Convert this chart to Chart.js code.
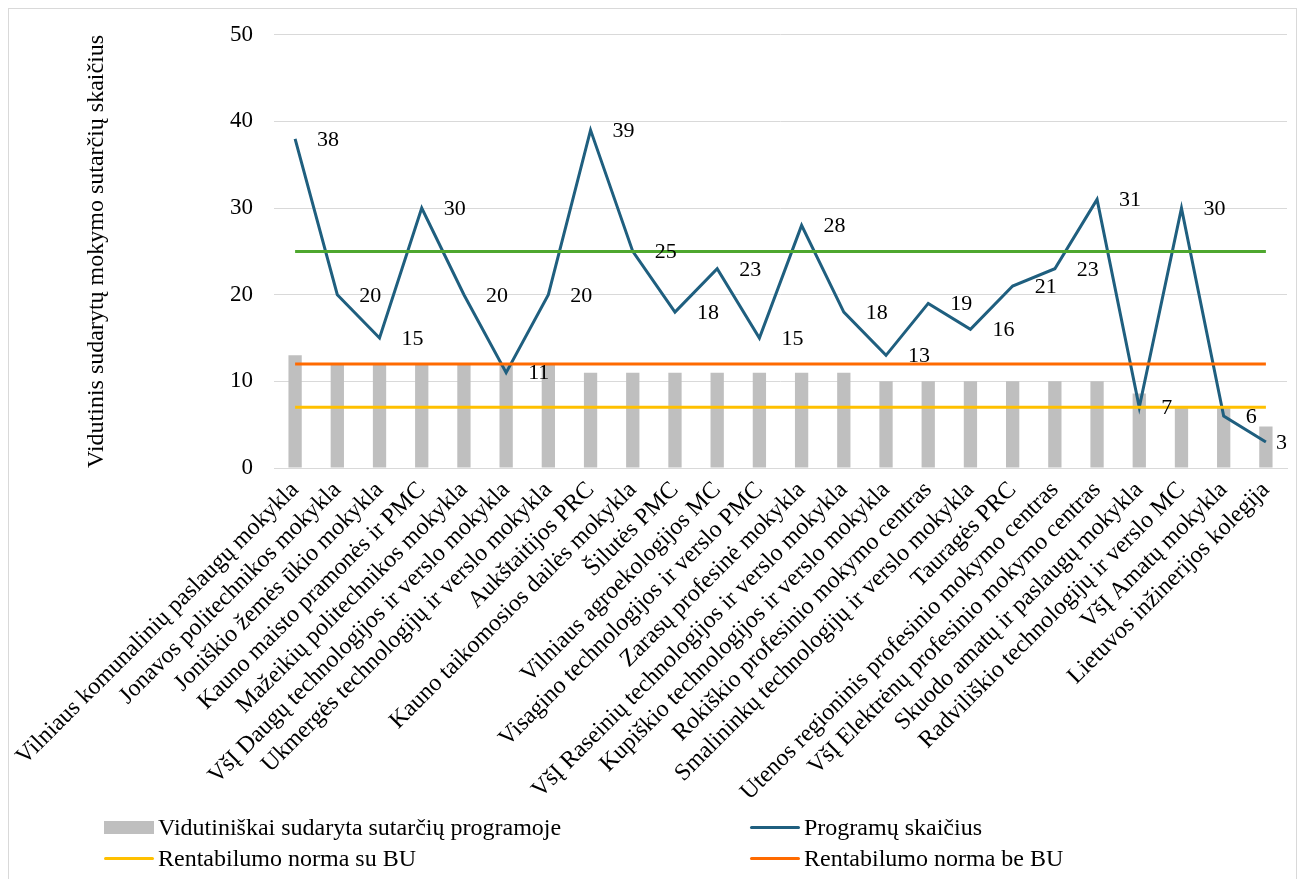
<!DOCTYPE html>
<html>
<head>
<meta charset="utf-8">
<script src="https://cdn.jsdelivr.net/npm/chart.js@4/dist/chart.umd.min.js"></script>
<style>
  body { margin: 0; background: #fff; }
  #wrap { position: relative; width: 1302px; height: 879px; }
  #frame { position: absolute; left: 8px; top: 8px; width: 1289px; height: 890px; border: 1px solid #d9d9d9; box-sizing: border-box; }
  #myChart { position: absolute; left: 0; top: 0; }
  .legend { position: absolute; font-family: "Liberation Serif", "Times New Roman", serif; font-size: 24px; line-height: 28px; color: #000; display: flex; align-items: center; white-space: nowrap; }
  .legend .box { width: 50px; height: 13px; background: #bfbfbf; margin-right: 4px; }
  .legend .ln { width: 50px; height: 3px; margin-right: 4px; border-radius: 2px; }
</style>
</head>
<body>
<div id="wrap">
  <div id="frame"></div>
  <canvas id="myChart" width="1302" height="879"></canvas>
  <div class="legend" style="left:104px; top:813px;"><span class="box"></span>Vidutiniškai sudaryta sutarčių programoje</div>
  <div class="legend" style="left:750px; top:813px;"><span class="ln" style="background:#1f5f7f"></span>Programų skaičius</div>
  <div class="legend" style="left:104px; top:844px;"><span class="ln" style="background:#ffc000"></span>Rentabilumo norma su BU</div>
  <div class="legend" style="left:750px; top:844px;"><span class="ln" style="background:#ff6a00"></span>Rentabilumo norma be BU</div>
</div>
<script>
const categories = [
  "Vilniaus komunalinių paslaugų mokykla",
  "Jonavos politechnikos mokykla",
  "Joniškio žemės ūkio mokykla",
  "Kauno maisto pramonės ir PMC",
  "Mažeikių politechnikos mokykla",
  "VšĮ Daugų technologijos ir verslo mokykla",
  "Ukmergės technologijų ir verslo mokykla",
  "Aukštaitijos PRC",
  "Kauno taikomosios dailės mokykla",
  "Šilutės PMC",
  "Vilniaus agroekologijos MC",
  "Visagino technologijos ir verslo PMC",
  "Zarasų profesinė mokykla",
  "VšĮ Raseinių technologijos ir verslo mokykla",
  "Kupiškio technologijos ir verslo mokykla",
  "Rokiškio profesinio mokymo centras",
  "Smalininkų technologijų ir verslo mokykla",
  "Tauragės PRC",
  "Utenos regioninis profesinio mokymo centras",
  "VšĮ Elektrėnų profesinio mokymo centras",
  "Skuodo amatų ir paslaugų mokykla",
  "Radviliškio technologijų ir verslo MC",
  "VšĮ Amatų mokykla",
  "Lietuvos inžinerijos kolegija"
];
const avgContracts = [13, 12, 12, 12, 12, 12, 12, 11, 11, 11, 11, 11, 11, 11, 10, 10, 10, 10, 10, 10, 8.6, 7, 7, 4.8];
const programCount = [38, 20, 15, 30, 20, 11, 20, 39, 25, 18, 23, 15, 28, 18, 13, 19, 16, 21, 23, 31, 7, 30, 6, 3];
const normWithBU = [7, 7, 7, 7, 7, 7, 7, 7, 7, 7, 7, 7, 7, 7, 7, 7, 7, 7, 7, 7, 7, 7, 7, 7];
const normWithoutBU = [12, 12, 12, 12, 12, 12, 12, 12, 12, 12, 12, 12, 12, 12, 12, 12, 12, 12, 12, 12, 12, 12, 12, 12];
const greenLevel = [25, 25, 25, 25, 25, 25, 25, 25, 25, 25, 25, 25, 25, 25, 25, 25, 25, 25, 25, 25, 25, 25, 25, 25];
const yTicks = [0, 10, 20, 30, 40, 50];

const FONT = "'Liberation Serif', 'Times New Roman', serif";

// value labels right of the line points, kept inside the plot area
const lineLabels = {
  id: "lineLabels",
  afterDatasetsDraw: (chart) => {
    const { ctx, chartArea } = chart;
    const meta = chart.getDatasetMeta(1);
    ctx.save();
    ctx.font = "22px " + FONT;
    ctx.fillStyle = "#000";
    ctx.textAlign = "left";
    ctx.textBaseline = "middle";
    meta.data.forEach((pt, i) => {
      const txt = String(programCount[i]);
      const w = ctx.measureText(txt).width;
      let x = pt.x + 22;
      if (x + w > chartArea.right) x = chartArea.right - w;
      ctx.fillText(txt, x, pt.y + 1);
    });
    ctx.restore();
  },
};

const ctx = document.getElementById("myChart").getContext("2d");
new Chart(ctx, {
  type: "bar",
  data: {
    labels: categories,
    datasets: [
      {
        type: "bar",
        label: "Vidutiniškai sudaryta sutarčių programoje",
        data: avgContracts,
        backgroundColor: "#bfbfbf",
        barPercentage: 0.315,
        categoryPercentage: 1,
        order: 5,
      },
      {
        type: "line",
        label: "Programų skaičius",
        data: programCount,
        borderColor: "#1f5f7f",
        borderWidth: 3,
        pointRadius: 0,
        tension: 0,
        order: 4,
      },
      {
        type: "line",
        label: "Rentabilumo norma su BU",
        data: normWithBU,
        borderColor: "#ffc000",
        borderWidth: 3,
        pointRadius: 0,
        order: 3,
      },
      {
        type: "line",
        label: "Rentabilumo norma be BU",
        data: normWithoutBU,
        borderColor: "#ff6a00",
        borderWidth: 3,
        pointRadius: 0,
        order: 2,
      },
      {
        type: "line",
        label: "",
        data: greenLevel,
        borderColor: "#4ea72e",
        borderWidth: 3,
        pointRadius: 0,
        order: 1,
      },
    ],
  },
  plugins: [lineLabels],
  options: {
    responsive: false,
    animation: false,
    layout: { padding: { left: 20, right: 15, top: 33, bottom: 0 } },
    plugins: {
      legend: { display: false },
      tooltip: { enabled: false },
    },
    scales: {
      x: {
        grid: { display: false, drawTicks: false },
        border: { display: true, color: "#d9d9d9", width: 1 },
        ticks: {
          autoSkip: false,
          maxRotation: 45,
          minRotation: 45,
          padding: 8,
          color: "#000",
          font: { family: FONT, size: 24 },
        },
        afterFit: (scale) => {
          scale.height = 879 - 468;
        },
      },
      y: {
        min: 0,
        max: 50,
        afterBuildTicks: (scale) => {
          scale.ticks = yTicks.map((v) => ({ value: v }));
        },
        grid: { color: "#d9d9d9", drawTicks: false },
        border: { display: false },
        ticks: {
          padding: 21,
          color: "#000",
          font: { family: FONT, size: 23 },
        },
        title: {
          display: true,
          text: "Vidutinis sudarytų mokymo sutarčių skaičius",
          color: "#000",
          font: { family: FONT, size: 24 },
          padding: { top: 62, bottom: 0 },
        },
        afterFit: (scale) => {
          scale.width = 254;
        },
      },
    },
  },
});
</script>
</body>
</html>
